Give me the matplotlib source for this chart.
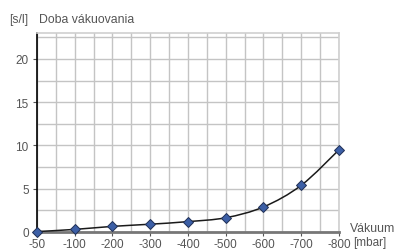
import numpy as np
import matplotlib.pyplot as plt
from matplotlib.path import Path
from matplotlib.patches import PathPatch

plt.rcParams.update({'font.size': 8.5, 'font.family': ['Liberation Sans', 'DejaVu Sans']})

# data
x_labels = ['-50', '-100', '-200', '-300', '-400', '-500', '-600', '-700', '-800']
values = [0.05, 0.3, 0.65, 0.9, 1.2, 1.65, 2.9, 5.4, 9.5]
y_ticks = [0, 5, 10, 15, 20]

X = np.arange(len(x_labels))
Y = np.array(values)

fig = plt.figure(figsize=(3.95, 2.53), dpi=100)
ax = fig.add_axes([37/395, 1-233/253, 302/395, 199/253])

ax.set_xlim(0, len(x_labels)-1)
ax.set_ylim(0, 23)
ax.set_xticks(X)
ax.set_xticklabels(x_labels)
ax.set_yticks(y_ticks)
ax.set_xticks(np.arange(0, len(x_labels)-1, 0.5), minor=True)
ax.set_yticks(np.arange(0, 23, 2.5), minor=True)
ax.grid(True, which='both', color='#c4c4c4', lw=1)
ax.tick_params(which='minor', length=0)
ax.tick_params(which='major', length=3, width=0.8, colors='#555555', pad=3, labelsize=8.5)
ax.tick_params(axis='x', pad=1.5)
ax.set_axisbelow(True)

for s in ['top', 'right']:
    ax.spines[s].set_color('#d0d0d0')
    ax.spines[s].set_linewidth(1.2)
ax.spines['left'].set_color('black')
ax.spines['left'].set_linewidth(1.2)
ax.spines['bottom'].set_color('#777777')
ax.spines['bottom'].set_linewidth(2)

# smooth curve through the points (Catmull-Rom as cubic Bezier)
P = np.column_stack([X, Y])
verts = [P[0]]
codes = [Path.MOVETO]
for i in range(len(P)-1):
    p0 = P[i-1] if i > 0 else P[i]
    p1 = P[i]
    p2 = P[i+1]
    p3 = P[i+2] if i+2 < len(P) else P[i+1]
    verts += [p1 + (p2-p0)/6, p2 - (p3-p1)/6, p2]
    codes += [Path.CURVE4]*3
ax.add_patch(PathPatch(Path(verts, codes), fc='none', ec='#1a1a1a', lw=1.1, zorder=3))

ax.plot(X, Y, ls='none', marker='D', ms=4.6, mfc='#3c5fa6', mec='#1f2f55', mew=0.7, zorder=4, clip_on=False)

fig.text(9/395, 1-20/253, '[s/l]', fontsize=8.8, color='#555555', va='center')
fig.text(39/395, 1-20/253, 'Doba vákuovania', fontsize=8.8, color='#555555', va='center')
fig.text(350/395, 1-229/253, 'Vákuum', fontsize=8.8, color='#555555', va='center')
fig.text(353/395, 1-243/253, '[mbar]', fontsize=8.5, color='#555555', va='center')

plt.savefig('out.png', dpi=100)
